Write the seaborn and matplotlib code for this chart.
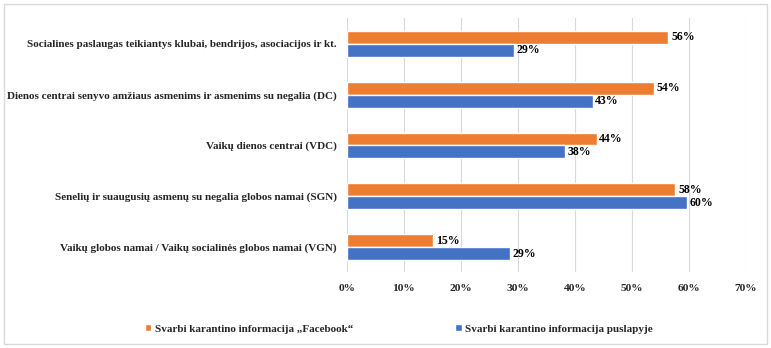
import matplotlib
matplotlib.use("Agg")
import matplotlib.pyplot as plt
import seaborn as sns
import pandas as pd
from matplotlib.patches import Rectangle

categories = [
    "Socialines paslaugas teikiantys klubai, bendrijos, asociacijos ir kt.",
    "Dienos centrai senyvo amžiaus asmenims ir asmenims su negalia (DC)",
    "Vaikų dienos centrai (VDC)",
    "Senelių ir suaugusių asmenų su negalia globos namai (SGN)",
    "Vaikų globos namai / Vaikų socialinės globos namai (VGN)",
]
series_names = [
    "Svarbi karantino informacija „Facebook“",
    "Svarbi karantino informacija puslapyje",
]
facebook_values = [56.4, 53.9, 43.8, 57.6, 15.2]
website_values = [29.3, 43.1, 38.3, 59.6, 28.6]
tick_values = [0, 10, 20, 30, 40, 50, 60, 70]
colors = ["#ED7D31", "#4472C4"]

df = pd.DataFrame({
    "category": categories * 2,
    "series": [series_names[0]] * 5 + [series_names[1]] * 5,
    "value": facebook_values + website_values,
})

sns.set_theme(style="white")
plt.rcParams["font.family"] = ["Liberation Serif", "DejaVu Serif"]
plt.rcParams["font.weight"] = "bold"

fig = plt.figure(figsize=(7.71, 3.48), dpi=100)
ax = fig.add_axes([0.4496, 0.217, 0.518, 0.730])

sns.barplot(data=df, y="category", x="value", hue="series", order=categories,
            hue_order=series_names, palette=colors, orient="h", width=0.51,
            saturation=1, ax=ax, legend=True)

for cont in ax.containers:
    ax.bar_label(cont, labels=[f"{v:.0f}%" for v in cont.datavalues],
                 padding=2, fontsize=8.5, fontweight="bold", color="black")

ax.set_xlim(0, 70)
ax.set_xticks(tick_values)
ax.set_xticklabels([f"{t}%" for t in tick_values], fontsize=8.2, fontweight="bold")
ax.tick_params(axis="x", length=0, pad=8)
ax.tick_params(axis="y", length=0, pad=7, labelsize=8)
for lab in ax.get_yticklabels():
    lab.set_fontweight("bold")
ax.set_xlabel("")
ax.set_ylabel("")
ax.xaxis.grid(True, color="#D9D9D9", linewidth=0.8)
ax.set_axisbelow(True)
for s in ax.spines.values():
    s.set_visible(False)

handles, labels = ax.get_legend_handles_labels()
ax.get_legend().remove()
fig.legend(handles, labels, loc="center", bbox_to_anchor=(0.517, 0.055), ncol=2,
           frameon=False, handlelength=0.6, handleheight=0.6, handletextpad=0.3,
           columnspacing=9.2, prop={"size": 8, "weight": "bold"})

fig.patches.append(Rectangle((4 / 771, 4 / 348), 1 - 8 / 771, 1 - 8 / 348,
                             transform=fig.transFigure, fill=False,
                             edgecolor="#D9D9D9", linewidth=1))

fig.savefig("out.png", dpi=100, facecolor="white")
